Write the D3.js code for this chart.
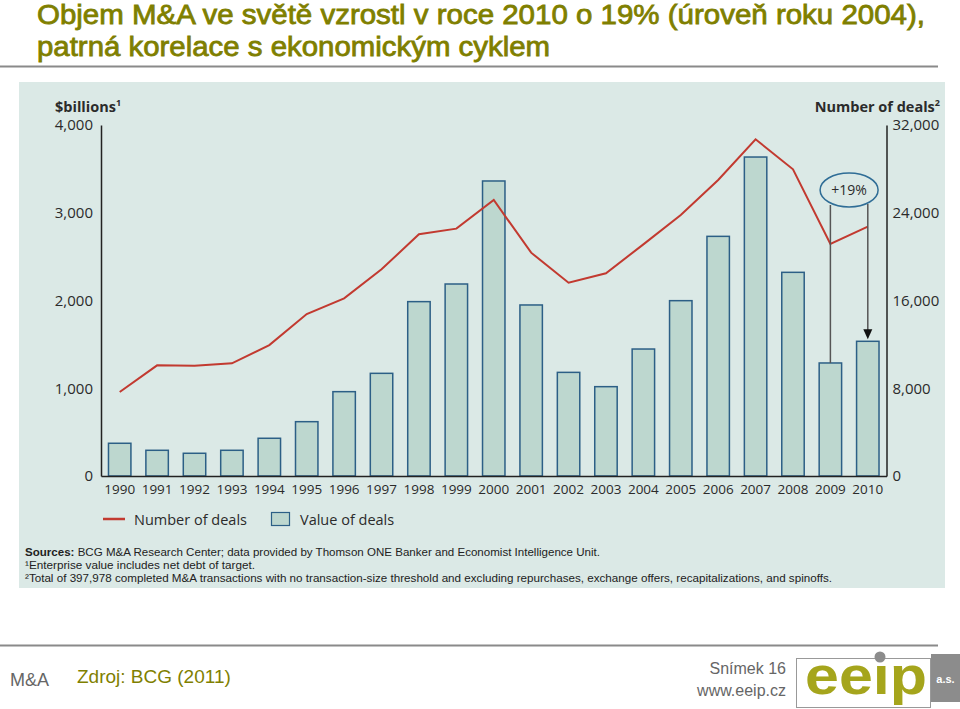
<!DOCTYPE html>
<html>
<head>
<meta charset="utf-8">
<script src="https://cdn.jsdelivr.net/npm/d3@7"></script>
<style>
  body { margin: 0; background: #fff; }
  svg { display: block; }
</style>
</head>
<body>
<div id="chart"></div>
<script>
// data
var years = [1990, 1991, 1992, 1993, 1994, 1995, 1996, 1997, 1998, 1999, 2000,
             2001, 2002, 2003, 2004, 2005, 2006, 2007, 2008, 2009, 2010];
var dealValue = [373, 293, 259, 293, 430, 619, 961, 1170, 1987, 2188, 3362,
                 1949, 1181, 1018, 1447, 1998, 2731, 3635, 2321, 1288, 1535];   // $billions
var dealCount = [7660, 10090, 10060, 10270, 11940, 14770, 16200, 18840, 22040, 22550, 25160,
                 20360, 17620, 18480, 21120, 23800, 26990, 30700, 27960, 21150, 22730];
var leftTicks = [0, 1000, 2000, 3000, 4000];
var rightTicks = [0, 8000, 16000, 24000, 32000];
var footnotes = [
  "BCG M&A Research Center; data provided by Thomson ONE Banker and Economist Intelligence Unit.",
  "\u00b9Enterprise value includes net debt of target.",
  "\u00b2Total of 397,978 completed M&A transactions with no transaction-size threshold and excluding repurchases, exchange offers, recapitalizations, and spinoffs."
];

var W = 960, H = 709;
var olive = "#7f7f00",
    panelBg = "#dbe9e6",
    barFill = "#bdd7cf",
    barStroke = "#2c5f86",
    lineRed = "#c23a30",
    ink = "#2b2b2b";
var font = "'Open Sans', sans-serif";

var svg = d3.select('#chart').append('svg')
  .attr('width', W)
  .attr('height', H)
  .style('font-family', font);

// slide title
var title = svg.append('g')
  .attr('fill', olive)
  .attr('stroke', olive)
  .attr('stroke-width', 0.8)
  .style('font-family', "'Liberation Sans', Arial, sans-serif")
  .style('font-size', '27px');
title.append('text')
  .attr('x', 37).attr('y', 24)
  .attr('textLength', 888).attr('lengthAdjust', 'spacingAndGlyphs')
  .text('Objem M&A ve světě vzrostl v roce 2010 o 19% (úroveň roku 2004),');
title.append('text')
  .attr('x', 37).attr('y', 56)
  .attr('textLength', 513).attr('lengthAdjust', 'spacingAndGlyphs')
  .text('patrná korelace s ekonomickým cyklem');

svg.append('line')
  .attr('x1', 0).attr('x2', 938)
  .attr('y1', 66.5).attr('y2', 66.5)
  .attr('stroke', '#8a8a8a')
  .attr('stroke-width', 2);

// chart panel
svg.append('rect')
  .attr('x', 19).attr('y', 82)
  .attr('width', 926).attr('height', 506)
  .attr('fill', panelBg);

var x = d3.scaleBand()
  .domain(years)
  .range([101, 886.5])
  .paddingInner(0.4)
  .paddingOuter(0.2);

var y = d3.scaleLinear().domain([0, 4000]).range([476, 125]);
var y2 = d3.scaleLinear().domain([0, 32000]).range([476, 125]);

var plot = svg.append('g');

// bars: value of deals
plot.selectAll('rect.bar')
  .data(years)
  .enter().append('rect')
  .attr('class', 'bar')
  .attr('x', (d) => x(d))
  .attr('width', x.bandwidth())
  .attr('y', (d, i) => y(dealValue[i]))
  .attr('height', (d, i) => y(0) - y(dealValue[i]))
  .attr('fill', barFill)
  .attr('stroke', barStroke)
  .attr('stroke-width', 1.5);

// line: number of deals
plot.append('path')
  .datum(years)
  .attr('d', d3.line()
    .x((d) => x(d) + x.bandwidth() / 2)
    .y((d, i) => y2(dealCount[i])))
  .attr('fill', 'none')
  .attr('stroke', lineRed)
  .attr('stroke-width', 2);

// axes
function styleAxis(g) {
  g.select('.domain').attr('stroke', '#222').attr('stroke-width', 1.5);
  g.selectAll('text')
    .attr('fill', ink)
    .style('font-family', font)
    .style('font-size', '15px');
}

svg.append('g')
  .attr('transform', 'translate(101,0)')
  .call(d3.axisLeft(y).tickValues(leftTicks).tickFormat(d3.format(',')).tickSize(0).tickSizeOuter(0).tickPadding(8))
  .call(styleAxis);

svg.append('g')
  .attr('transform', 'translate(886.5,0)')
  .call(d3.axisRight(y2).tickValues(rightTicks).tickFormat(d3.format(',')).tickSize(0).tickSizeOuter(0).tickPadding(6))
  .call(styleAxis);

svg.append('g')
  .attr('transform', 'translate(0,476)')
  .call(d3.axisBottom(x).tickSize(0).tickSizeOuter(0).tickPadding(8))
  .call(styleAxis)
  .call((g) => g.selectAll('text').style('font-size', '13.5px'));

// axis titles
var lt = svg.append('text')
  .attr('x', 55).attr('y', 112)
  .attr('fill', ink)
  .style('font-size', '14.5px')
  .style('font-weight', 'bold')
  .text('$billions');
lt.append('tspan').attr('dy', -6).style('font-size', '9px').text('1');

var rt = svg.append('text')
  .attr('x', 940).attr('y', 112)
  .attr('text-anchor', 'end')
  .attr('fill', ink)
  .style('font-size', '14.5px')
  .style('font-weight', 'bold')
  .text('Number of deals');
rt.append('tspan').attr('dy', -6).style('font-size', '9px').text('2');

// +19% annotation between 2009 and 2010
var cx09 = x(2009) + x.bandwidth() / 2,
    cx10 = x(2010) + x.bandwidth() / 2,
    ecx = (cx09 + cx10) / 2,
    ecy = 190;

svg.append('line')
  .attr('x1', cx09).attr('x2', cx09)
  .attr('y1', 205).attr('y2', y(dealValue[19]))
  .attr('stroke', '#555').attr('stroke-width', 1.5);
svg.append('line')
  .attr('x1', cx10).attr('x2', cx10)
  .attr('y1', 204).attr('y2', y(dealValue[20]) - 10)
  .attr('stroke', '#555').attr('stroke-width', 1.5);
svg.append('path')
  .attr('d', d3.line()([
    [cx10 - 4.5, y(dealValue[20]) - 12],
    [cx10 + 4.5, y(dealValue[20]) - 12],
    [cx10, y(dealValue[20]) - 2]
  ]) + 'Z')
  .attr('fill', '#111');
svg.append('ellipse')
  .attr('cx', ecx).attr('cy', ecy)
  .attr('rx', 29).attr('ry', 17)
  .attr('fill', panelBg)
  .attr('stroke', '#2f6d96')
  .attr('stroke-width', 1.5);
svg.append('text')
  .attr('x', ecx).attr('y', ecy + 5)
  .attr('text-anchor', 'middle')
  .attr('fill', ink)
  .style('font-size', '14px')
  .text('+19%');

// legend
var legend = svg.append('g').attr('transform', 'translate(103,519)');
legend.append('line')
  .attr('x1', 0).attr('x2', 22)
  .attr('stroke', lineRed).attr('stroke-width', 2.5);
legend.append('text')
  .attr('x', 31).attr('y', 5.5)
  .attr('fill', ink)
  .style('font-size', '14.5px')
  .text('Number of deals');
legend.append('rect')
  .attr('x', 168.5).attr('y', -6.5)
  .attr('width', 18).attr('height', 13)
  .attr('fill', barFill)
  .attr('stroke', barStroke)
  .attr('stroke-width', 1.2);
legend.append('text')
  .attr('x', 197).attr('y', 5.5)
  .attr('fill', ink)
  .style('font-size', '14.5px')
  .text('Value of deals');

// sources and footnotes
var noteWidths = [575, 230, 807];
var notes = svg.append('g')
  .attr('fill', '#222')
  .style('font-family', "'Liberation Sans', Arial, sans-serif")
  .style('font-size', '11px');
var src = notes.append('text')
  .attr('x', 25).attr('y', 556)
  .attr('textLength', noteWidths[0]).attr('lengthAdjust', 'spacingAndGlyphs');
src.append('tspan').style('font-weight', 'bold').text('Sources: ');
src.append('tspan').text(footnotes[0]);
notes.selectAll('text.fn')
  .data(footnotes.slice(1))
  .enter().append('text')
  .attr('class', 'fn')
  .attr('x', 25)
  .attr('y', (d, i) => 569 + i * 13)
  .attr('textLength', (d, i) => noteWidths[i + 1])
  .attr('lengthAdjust', 'spacingAndGlyphs')
  .text((d) => d);

// footer
svg.append('line')
  .attr('x1', 0).attr('x2', 938)
  .attr('y1', 645.5).attr('y2', 645.5)
  .attr('stroke', '#8a8a8a')
  .attr('stroke-width', 2);

var footer = svg.append('g').style('font-family', "'Liberation Sans', Arial, sans-serif");
footer.append('text')
  .attr('x', 10).attr('y', 686)
  .attr('fill', '#666')
  .style('font-size', '18px')
  .text('M&A');
footer.append('text')
  .attr('x', 77).attr('y', 683)
  .attr('fill', olive)
  .style('font-size', '19px')
  .text('Zdroj: BCG (2011)');
footer.append('text')
  .attr('x', 786).attr('y', 674)
  .attr('text-anchor', 'end')
  .attr('fill', '#666')
  .style('font-size', '16px')
  .text('Snímek 16');
footer.append('text')
  .attr('x', 786).attr('y', 696)
  .attr('text-anchor', 'end')
  .attr('fill', '#666')
  .style('font-size', '16px')
  .text('www.eeip.cz');

// eeip logo
var logo = svg.append('g');
logo.append('rect')
  .attr('x', 796.5).attr('y', 658.5)
  .attr('width', 134).attr('height', 49)
  .attr('fill', '#fff')
  .attr('stroke', '#999');
logo.append('rect')
  .attr('x', 931).attr('y', 654)
  .attr('width', 29).attr('height', 48)
  .attr('fill', '#8c8c8c');
logo.append('text')
  .attr('x', 945.5).attr('y', 683)
  .attr('text-anchor', 'middle')
  .attr('fill', '#fff')
  .style('font-family', "'Liberation Sans', Arial, sans-serif")
  .style('font-size', '11px')
  .style('font-weight', 'bold')
  .text('a.s.');
logo.append('text')
  .attr('x', 805).attr('y', 694)
  .attr('textLength', 122).attr('lengthAdjust', 'spacingAndGlyphs')
  .attr('fill', '#a5a51c')
  .style('font-family', "'Liberation Sans', Arial, sans-serif")
  .style('font-size', '54px')
  .style('font-weight', 'bold')
  .text('ee\u0131p');
logo.append('circle')
  .attr('cx', 880).attr('cy', 657)
  .attr('r', 5.5)
  .attr('fill', '#8c8c8c');
</script>
</body>
</html>
